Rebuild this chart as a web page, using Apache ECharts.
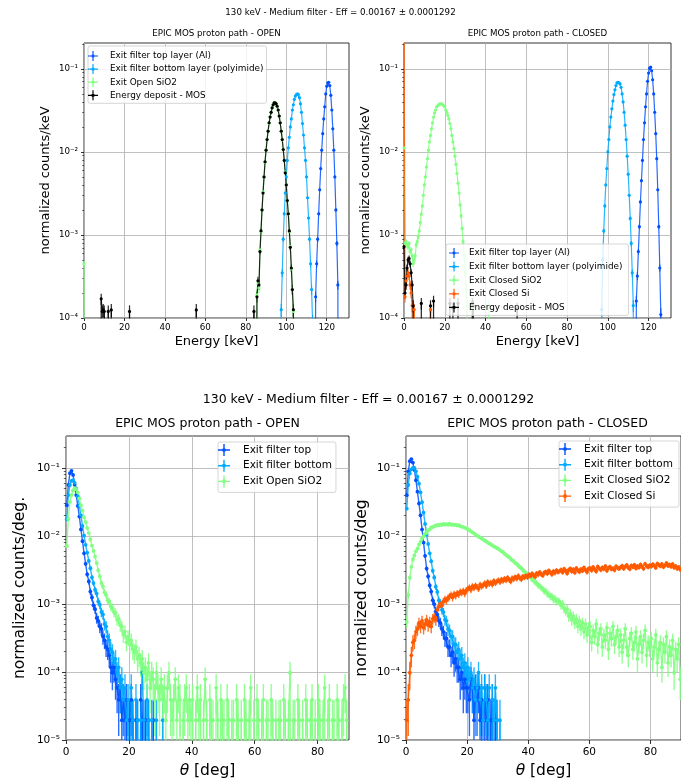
<!DOCTYPE html>
<html>
<head>
<meta charset="utf-8">
<title>EPIC MOS proton path</title>
<script src="https://cdn.jsdelivr.net/npm/echarts@6.0.0/dist/echarts.min.js"></script>
<style>
html,body{margin:0;padding:0;background:#ffffff;}
#chart{width:681px;height:782px;}
</style>
</head>
<body>
<div id="chart"></div>
<script>
// ================= DATA =================
// --- Energy spectra (normalized counts/keV), 0.5 keV bins, values listed from a start energy ---
const E_BIN = 0.5;
const E_MAX = 131;
const E_UNIT = 4e-6;            // normalized value of one count (energy plots)

// OPEN path
const openAlStart = 114.0;
const openAl = [0, 1.8e-4, 4.5e-4, 8.9e-4, 1.8e-3, 3.5e-3, 6.3e-3, 1.05e-2, 1.66e-2, 2.5e-2, 3.5e-2, 5.0e-2, 6.2e-2, 6.8e-2, 6.9e-2, 6.3e-2, 4.8e-2, 3.2e-2, 1.9e-2, 1.05e-2, 5.0e-3, 2.0e-3, 7.9e-4, 2.5e-4, 0];
const openPolyStart = 97.0;
const openPoly = [0, 1.26e-4, 3.5e-4, 8.9e-4, 1.8e-3, 3.2e-3, 5.0e-3, 7.9e-3, 1.12e-2, 1.5e-2, 2.0e-2, 2.5e-2, 3.2e-2, 3.7e-2, 4.3e-2, 4.7e-2, 4.9e-2, 5.0e-2, 4.9e-2, 4.5e-2, 3.8e-2, 3.0e-2, 2.2e-2, 1.6e-2, 1.12e-2, 7.9e-3, 5.0e-3, 2.8e-3, 1.6e-3, 8.9e-4, 4.5e-4, 2.2e-4, 9e-5, 0];
const openSiO2Start = 85.0;
const openSiO2 = [0, 1.9e-4, 2.6e-4, 2.3e-4, 6.6e-4, 1.1e-3, 2.0e-3, 3.3e-3, 5.0e-3, 7.5e-3, 1.06e-2, 1.4e-2, 1.8e-2, 2.2e-2, 2.65e-2, 3.0e-2, 3.4e-2, 3.7e-2, 3.9e-2, 3.85e-2, 3.8e-2, 3.5e-2, 3.2e-2, 2.7e-2, 2.25e-2, 1.78e-2, 1.4e-2, 1.07e-2, 7.9e-3, 5.7e-3, 4.0e-3, 2.6e-3, 1.8e-3, 1.1e-3, 7.3e-4, 3.9e-4, 2.2e-4, 1.2e-4, 0];
const openSiO2SpikeE = [0.0];
const openSiO2SpikeV = [4.5e-4];
const openMosStart = 85.0;
const openMos = [0, 1.8e-4, 2.8e-4, 2.5e-4, 6.3e-4, 1.12e-3, 2.0e-3, 3.2e-3, 5.0e-3, 7.6e-3, 1.05e-2, 1.41e-2, 1.78e-2, 2.24e-2, 2.63e-2, 3.0e-2, 3.4e-2, 3.7e-2, 3.9e-2, 3.9e-2, 3.8e-2, 3.55e-2, 3.2e-2, 2.7e-2, 2.24e-2, 1.78e-2, 1.41e-2, 1.07e-2, 7.9e-3, 5.6e-3, 4.0e-3, 2.6e-3, 1.8e-3, 1.12e-3, 7.1e-4, 4.0e-4, 2.2e-4, 1.26e-4, 0];
const openMosSpikeE = [8.5, 9.0, 9.5, 10.0, 12.0, 13.5, 22.5, 55.5, 84.0];
const openMosSpikeV = [1.7e-4, 1.2e-4, 1.25e-4, 1.2e-4, 1.2e-4, 1.25e-4, 1.2e-4, 1.25e-4, 1.2e-4];

// CLOSED path
const closedAlStart = 113.5;
const closedAl = [0, 1.6e-4, 3.2e-4, 6.3e-4, 1.26e-3, 2.5e-3, 4.5e-3, 7.9e-3, 1.41e-2, 2.24e-2, 3.5e-2, 5.0e-2, 7.1e-2, 8.9e-2, 1.02e-1, 1.05e-1, 9.5e-2, 7.4e-2, 5.0e-2, 3.0e-2, 1.66e-2, 8.3e-3, 3.5e-3, 1.26e-3, 4.0e-4, 1.1e-4, 0];
const closedPolyStart = 96.5;
const closedPoly = [0, 1.26e-4, 5.0e-4, 1.12e-3, 2.24e-3, 4.0e-3, 6.3e-3, 1.0e-2, 1.41e-2, 2.0e-2, 2.63e-2, 3.3e-2, 4.1e-2, 4.9e-2, 5.6e-2, 6.3e-2, 6.8e-2, 6.9e-2, 6.8e-2, 6.6e-2, 6.0e-2, 5.0e-2, 4.0e-2, 3.0e-2, 2.1e-2, 1.41e-2, 8.9e-3, 5.4e-3, 3.0e-3, 1.58e-3, 7.9e-4, 3.5e-4, 1.41e-4, 0];
const closedSiO2Start = 0.0;
const closedSiO2 = [1.12e-2, 7.9e-4, 8.3e-4, 7.6e-4, 7.1e-4, 7.9e-4, 6.3e-4, 6.6e-4, 5.6e-4, 4.5e-4, 5.0e-4, 5.6e-4, 7.6e-4, 8.3e-4, 9.5e-4, 1.12e-3, 1.41e-3, 1.78e-3, 2.24e-3, 3.0e-3, 4.0e-3, 5.0e-3, 6.6e-3, 8.3e-3, 1.05e-2, 1.32e-2, 1.58e-2, 1.9e-2, 2.24e-2, 2.63e-2, 2.95e-2, 3.2e-2, 3.5e-2, 3.6e-2, 3.7e-2, 3.8e-2, 3.8e-2, 3.8e-2, 3.7e-2, 3.6e-2, 3.5e-2, 3.2e-2, 3.0e-2, 2.75e-2, 2.5e-2, 2.2e-2, 1.9e-2, 1.58e-2, 1.32e-2, 1.1e-2, 8.9e-3, 7.1e-3, 5.5e-3, 4.2e-3, 3.2e-3, 2.3e-3, 1.7e-3, 1.2e-3, 8.3e-4, 5.6e-4, 3.5e-4, 2.2e-4, 1.4e-4, 0];
const closedSiO2SpikeE = [34.0, 41.5];
const closedSiO2SpikeV = [1.3e-4, 1.4e-4];
const closedSiStart = 0.0;
const closedSi = [1.5, 1.8e-4, 2.8e-4, 3.2e-4, 3.5e-4, 3.2e-4, 2.5e-4, 2.0e-4, 1.41e-4, 0, 1.26e-4, 0];
const closedSiSpikeE = [13.0];
const closedSiSpikeV = [1.26e-4];
const closedMosStart = 0.0;
const closedMos = [7.2e-4, 2.0e-4, 2.5e-4, 4.0e-4, 5.0e-4, 5.2e-4, 4.5e-4, 3.5e-4, 2.5e-4, 1.4e-4, 0];
const closedMosSpikeE = [8.5, 13.0, 14.5, 22.5, 24.0, 26.5, 33.5, 34.0, 55.5];
const closedMosSpikeV = [1.5e-4, 1.4e-4, 1.6e-4, 1.5e-4, 1.3e-4, 1.5e-4, 1.5e-4, 1.4e-4, 1.3e-4];

// --- Angular distributions: counts per 0.5 deg bin (bin centres 0.25, 0.75, ...) ---
const A_START = 0.25;
const A_BIN = 0.5;
const A_UNIT = 1.95e-5;          // normalized counts/deg of one count

const angOpenTop = [1450, 2900, 4300, 4650, 4050, 2900, 2050, 1420, 990, 640,
  430, 285, 200, 140, 110, 78, 64, 49, 43, 32,
  29, 24, 22, 17, 15, 12, 11, 9, 6, 5,
  6, 4, 3, 2, 3, 1, 2, 1, 2, 0,
  1, 2, 1, 0, 1, 1, 0, 2, 1, 0,
  1, 0, 1, 0, 0, 1, 0, 0, 0, 0];
const angOpenBottom = [900, 2050, 2870, 3320, 3380, 3100, 2560, 1960, 1430, 1030,
  720, 520, 380, 292, 220, 172, 126, 104, 83, 73,
  56, 50, 39, 36, 26, 24, 17, 15, 11, 10,
  7, 8, 5, 6, 3, 4, 2, 3, 1, 2,
  0, 3, 1, 0, 2, 1, 0, 1, 5, 1,
  0, 2, 1, 0, 1, 0, 0, 1, 0, 0,
  0, 1, 0, 0];
const angOpenSiO2 = [363, 910, 1630, 2050, 2400, 2580, 2500, 2230, 1830, 1440, 1210, 970, 820, 670, 565, 455, 370, 310, 255, 205,
  160, 131, 105, 93, 76, 70, 58, 56, 47, 45, 39, 38, 30, 31, 25, 24, 18, 20, 14, 17,
  13, 15, 11, 10, 12, 8, 9, 7, 8, 5, 6, 4, 7, 3, 5, 4, 2, 5, 3, 2,
  4, 2, 3, 1, 3, 5, 2, 1, 2, 4, 1, 3, 2, 0, 1, 2, 3, 1, 2, 1,
  2, 0, 1, 3, 1, 2, 0, 1, 4, 1, 0, 2, 1, 1, 0, 3, 1, 0, 2, 1,
  1, 0, 2, 1, 0, 1, 1, 0, 2, 1, 0, 1, 0, 2, 1, 0, 1, 3, 0, 1,
  0, 2, 1, 0, 1, 2, 0, 1, 1, 0, 2, 1, 0, 1, 0, 1, 1, 0, 2, 1,
  0, 1, 5, 0, 1, 1, 0, 2, 1, 0, 1, 0, 2, 1, 0, 1, 2, 0, 1, 0,
  2, 1, 0, 1, 3, 0, 1, 2, 0, 1, 1, 0, 2, 1, 0, 1, 2, 3, 1, 0];

const angClosedTop = [2040, 4580, 6450, 6900, 6150, 4800, 3380, 2300, 1540, 1030,
  640, 410, 262, 170, 131, 96, 78, 58, 51, 40,
  36, 29, 27, 22, 20, 16, 16, 12, 12, 9,
  10, 7, 8, 6, 6, 4, 5, 3, 4, 3,
  3, 2, 4, 3, 1, 3, 2, 3, 1, 2,
  0, 3, 1, 2, 0, 1, 2, 0, 1, 1, 0];
const angClosedBottom = [1290, 2880, 4260, 4900, 5130, 5120, 4580, 3810, 3010, 2250,
  1610, 1130, 770, 540, 392, 285, 218, 158, 126, 92,
  77, 58, 53, 42, 39, 30, 29, 22, 21, 17,
  17, 13, 13, 10, 11, 8, 9, 6, 7, 5,
  6, 4, 5, 3, 4, 2, 3, 5, 2, 3,
  1, 3, 2, 1, 3, 0, 2, 1, 3, 1,
  0, 1, 0];
const angClosedSiO2 = [28, 70, 125, 180, 232, 265, 305, 335, 384, 420, 470, 508, 556, 570, 622, 640, 684, 690, 716, 725,
  748, 735, 760, 742, 771, 755, 768, 750, 776, 748, 760, 745, 752, 731, 740, 712, 705, 690, 682, 660,
  645, 625, 600, 580, 560, 540, 515, 500, 488, 470, 455, 440, 425, 410, 398, 385, 372, 360, 352, 340,
  332, 318, 305, 296, 282, 270, 258, 250, 236, 225, 218, 206, 198, 188, 178, 172, 162, 154, 146, 138,
  131, 128, 117, 116, 106, 105, 96, 95, 88, 86, 79, 80, 72, 71, 66, 67, 60, 62, 56, 57,
  55, 49, 52, 44, 41, 43, 34, 37, 30, 34, 27, 31, 24, 29, 22, 27, 20, 26, 18, 23,
  24, 14, 21, 17, 26, 13, 19, 22, 12, 18, 15, 23, 11, 19, 16, 24, 13, 17, 21, 12,
  18, 10, 15, 22, 12, 9, 16, 19, 11, 14, 20, 8, 13, 17, 10, 15, 21, 9, 14, 12,
  16, 8, 12, 18, 7, 11, 14, 6, 13, 10, 17, 7, 12, 9, 15, 5, 11, 8, 13, 4];
const angClosedSi = [1, 2, 5, 9, 14, 15, 20, 22, 27, 24, 29, 23, 26, 30, 25, 28, 24, 31, 33, 30,
  42, 47, 52, 49, 56, 60, 58, 63, 66, 70, 64, 72, 68, 74, 71, 78, 75, 80, 73, 82,
  85, 90, 83, 94, 88, 96, 91, 86, 99, 93, 97, 104, 95, 108, 101, 106, 99, 112, 104, 110,
  115, 108, 118, 112, 121, 114, 125, 117, 110, 123, 119, 128, 121, 133, 124, 118, 130, 126, 135, 127,
  138, 131, 143, 136, 128, 145, 139, 150, 141, 135, 148, 152, 144, 158, 149, 140, 155, 147, 160, 151,
  156, 163, 150, 168, 158, 145, 162, 170, 155, 165, 149, 172, 160, 153, 167, 158, 175, 162, 151, 169,
  172, 160, 178, 166, 155, 181, 170, 163, 176, 168, 185, 159, 174, 180, 167, 171, 162, 183, 175, 169,
  178, 186, 170, 182, 191, 175, 168, 188, 179, 193, 172, 184, 177, 195, 181, 170, 200, 186, 178, 190,
  183, 196, 188, 175, 201, 192, 185, 198, 180, 190, 205, 187, 194, 182, 197, 176, 185, 170, 178, 165];

// --- Tick values ---
const energyTicks = [0, 20, 40, 60, 80, 100, 120];
const angleTicks = [0, 20, 40, 60, 80];
const countTicksE = [1e-4, 1e-3, 1e-2, 1e-1];
const countTicksA = [1e-5, 1e-4, 1e-3, 1e-2, 1e-1];

// ================= STYLE =================
const FONT = 'DejaVu Sans';
const C_TOP = '#0050ff', C_BOT = '#00aaff', C_SIO2 = '#80ff80', C_SI = '#ff5a00', C_MOS = '#000000';
const FLOOR = 1e-12;
const ICON = 'path://M0,5.3h12v1.4h-12z M5.3,0h1.4v12h-1.4z M4.4,4.4h3.2v3.2h-3.2z';

// ================= BUILDERS =================
function energyPoints(start, values, spikeE, spikeV) {
  const n = Math.round(E_MAX / E_BIN);
  const grid = new Array(n + 1).fill(0);
  const s = Math.round(start / E_BIN);
  values.forEach((v, i) => { grid[s + i] = v; });
  (spikeE || []).forEach((e, i) => { grid[Math.round(e / E_BIN)] = spikeV[i]; });
  return grid.map((v, i) => [i * E_BIN, v, Math.sqrt(v * E_UNIT)]);
}
function anglePoints(counts) {
  return counts.map((c, i) => [A_START + i * A_BIN, c * A_UNIT, Math.sqrt(c) * A_UNIT]);
}
function errRender(color, lw) {
  return function (params, api) {
    const cs = params.coordSys;
    const x = api.value(0);
    const a = api.coord([x, api.value(2)]);
    const b = api.coord([x, api.value(1)]);
    const y1 = Math.max(a[1], cs.y);
    const y2 = Math.min(b[1], cs.y + cs.height);
    if (a[0] < cs.x - 0.5 || a[0] > cs.x + cs.width + 0.5 || y1 >= y2) return null;
    return { type: 'line', shape: { x1: a[0], y1: y1, x2: a[0], y2: y2 },
      style: { stroke: color, lineWidth: lw, opacity: 0.85 }, silent: true };
  };
}
const series = [];
function addHist(name, color, pts, xi, yi, sym, lw) {
  const errData = [];
  pts.forEach(p => { if (p[1] > 0) errData.push([p[0], Math.max(p[1] - p[2], FLOOR), p[1] + p[2]]); });
  series.push({ type: 'custom', name: name, xAxisIndex: xi, yAxisIndex: yi, data: errData,
    renderItem: errRender(color, lw), itemStyle: { color: color }, silent: true, animation: false, clip: false, z: 2 });
  series.push({ type: 'line', name: name, xAxisIndex: xi, yAxisIndex: yi,
    data: pts.map(p => [p[0], p[1] > 0 ? p[1] : FLOOR]),
    symbol: 'circle', symbolSize: v => (v[1] > FLOOR * 10 ? sym : 0), showSymbol: true,
    lineStyle: { color: color, width: lw, opacity: 0.85 }, itemStyle: { color: color },
    clip: true, silent: true, animation: false, z: 2, emphasis: { disabled: true } });
}

function supExp(v) {
  const e = Math.round(Math.log10(v));
  const map = { '-': '\u207B', '0': '\u2070', '1': '\u00B9', '2': '\u00B2', '3': '\u00B3', '4': '\u2074', '5': '\u2075', '6': '\u2076', '7': '\u2077', '8': '\u2078', '9': '\u2079' };
  return '10' + String(e).split('').map(c => map[c]).join('');
}
function minorVals(lo, hi) {
  const out = [];
  for (let e = lo; e <= 0; e++) for (let m = 2; m <= 9; m++) { const v = m * Math.pow(10, e); if (v < hi) out.push(v); }
  return out;
}
const SPLIT = { show: true, lineStyle: { color: '#b0b0b0', width: 0.8 } };
function xAx(gi, max, ticks, name, fs, nameFs, nameGap, margin, tickLen) {
  return { type: 'value', gridIndex: gi, min: 0, max: max, interval: 20,
    name: name, nameLocation: 'middle', nameGap: nameGap,
    nameTextStyle: { fontFamily: FONT, fontSize: nameFs, color: '#000',
      rich: { t: { fontFamily: FONT, fontSize: nameFs, fontStyle: 'italic', color: '#000' } } },
    axisLine: { show: false },
    axisTick: { show: true, length: tickLen, lineStyle: { color: '#000', width: 0.8 }, customValues: ticks },
    axisLabel: { customValues: ticks, fontFamily: FONT, fontSize: fs, color: '#000', margin: margin },
    splitLine: SPLIT };
}
function yAx(gi, min, max, ticks, name, fs, nameFs, nameGap, tickLen) {
  return { type: 'log', logBase: 10, gridIndex: gi, min: min, max: max,
    name: name, nameLocation: 'middle', nameGap: nameGap,
    nameTextStyle: { fontFamily: FONT, fontSize: nameFs, color: '#000' },
    axisLine: { show: false },
    axisTick: { show: true, length: tickLen, lineStyle: { color: '#000', width: 0.8 }, customValues: ticks },
    axisLabel: { customValues: ticks, formatter: supExp, fontFamily: FONT, fontSize: fs, color: '#000', margin: 6 },
    splitLine: SPLIT };
}
function yMinor(gi, min, max, vals, len) {
  return { type: 'log', logBase: 10, gridIndex: gi, min: min, max: max, position: 'left',
    axisLine: { show: false }, axisLabel: { show: false }, splitLine: { show: false },
    axisTick: { show: true, length: len, lineStyle: { color: '#000', width: 0.6 }, customValues: vals } };
}

// ================= SERIES =================
// Top-left: OPEN energy
addHist('Exit filter top layer (Al)', C_TOP, energyPoints(openAlStart, openAl), 0, 0, 3.2, 1.2);
addHist('Exit filter bottom layer (polyimide)', C_BOT, energyPoints(openPolyStart, openPoly), 0, 0, 3.2, 1.2);
addHist('Exit Open SiO2', C_SIO2, energyPoints(openSiO2Start, openSiO2, openSiO2SpikeE, openSiO2SpikeV), 0, 0, 3.2, 1.2);
addHist('Energy deposit - MOS', C_MOS, energyPoints(openMosStart, openMos, openMosSpikeE, openMosSpikeV), 0, 0, 3.2, 1.2);
// Top-right: CLOSED energy
addHist('Exit filter top layer (Al)', C_TOP, energyPoints(closedAlStart, closedAl), 1, 1, 3.2, 1.2);
addHist('Exit filter bottom layer (polyimide)', C_BOT, energyPoints(closedPolyStart, closedPoly), 1, 1, 3.2, 1.2);
addHist('Exit Closed SiO2', C_SIO2, energyPoints(closedSiO2Start, closedSiO2, closedSiO2SpikeE, closedSiO2SpikeV), 1, 1, 3.2, 1.2);
addHist('Exit Closed Si', C_SI, energyPoints(closedSiStart, closedSi, closedSiSpikeE, closedSiSpikeV), 1, 1, 3.2, 1.2);
addHist('Energy deposit - MOS', C_MOS, energyPoints(closedMosStart, closedMos, closedMosSpikeE, closedMosSpikeV), 1, 1, 3.2, 1.2);
// Bottom-left: OPEN angle
addHist('Exit filter top', C_TOP, anglePoints(angOpenTop), 2, 2, 3.8, 1.4);
addHist('Exit filter bottom', C_BOT, anglePoints(angOpenBottom), 2, 2, 3.8, 1.4);
addHist('Exit Open SiO2', C_SIO2, anglePoints(angOpenSiO2), 2, 2, 3.8, 1.4);
// Bottom-right: CLOSED angle
addHist('Exit filter top', C_TOP, anglePoints(angClosedTop), 3, 3, 3.8, 1.4);
addHist('Exit filter bottom', C_BOT, anglePoints(angClosedBottom), 3, 3, 3.8, 1.4);
addHist('Exit Closed SiO2', C_SIO2, anglePoints(angClosedSiO2), 3, 3, 3.8, 1.4);
addHist('Exit Closed Si', C_SI, anglePoints(angClosedSi), 3, 3, 3.8, 1.4);

// ================= LEGENDS =================
function legItems(list) { return list.map(d => ({ name: d[0], icon: ICON, itemStyle: { color: d[1], borderWidth: 0 } })); }
function legend(left, top, padding, itemWidth, itemHeight, gap, fs, lh, items) {
  return { orient: 'vertical', left: left, top: top, padding: padding, itemWidth: itemWidth, itemHeight: itemHeight,
    itemGap: gap, selectedMode: false, symbolKeepAspect: true,
    textStyle: { fontFamily: FONT, fontSize: fs, lineHeight: lh, color: '#000' },
    backgroundColor: 'rgba(255,255,255,0.8)', borderColor: '#cccccc', borderWidth: 0.8, borderRadius: 2,
    data: legItems(items) };
}

// ================= OPTION =================
const TOP_MAX = 0.205, BOT_MAX = 0.295;
const option = {
  backgroundColor: '#ffffff',
  animation: false,
  grid: [
    { left: 84, top: 43, width: 265, height: 275, show: true, borderColor: '#000', borderWidth: 0.8, backgroundColor: 'transparent' },
    { left: 404, top: 43, width: 267, height: 275, show: true, borderColor: '#000', borderWidth: 0.8, backgroundColor: 'transparent' },
    { left: 66, top: 436, width: 283, height: 304, show: true, borderColor: '#000', borderWidth: 0.8, backgroundColor: 'transparent' },
    { left: 406, top: 436, width: 283, height: 304, show: true, borderColor: '#000', borderWidth: 0.8, backgroundColor: 'transparent' }
  ],
  xAxis: [
    xAx(0, E_MAX, energyTicks, 'Energy [keV]', 8.7, 13, 17, 5, 3),
    xAx(1, E_MAX, energyTicks, 'Energy [keV]', 8.7, 13, 17, 5, 3),
    xAx(2, 90, angleTicks, '{t|\u03B8} [deg]', 10.5, 15.5, 23, 7, 4),
    xAx(3, 90, angleTicks, '{t|\u03B8} [deg]', 10.5, 15.5, 23, 7, 4)
  ],
  yAxis: [
    yAx(0, 1e-4, TOP_MAX, countTicksE, 'normalized counts/keV', 8.7, 13, 32, 3),
    yAx(1, 1e-4, TOP_MAX, countTicksE, 'normalized counts/keV', 8.7, 13, 32, 3),
    yAx(2, 1e-5, BOT_MAX, countTicksA, 'normalized counts/deg.', 10.5, 15.5, 38, 4),
    yAx(3, 1e-5, BOT_MAX, countTicksA, 'normalized counts/deg', 10.5, 15.5, 36.5, 4),
    yMinor(0, 1e-4, TOP_MAX, minorVals(-4, TOP_MAX), 1.8),
    yMinor(1, 1e-4, TOP_MAX, minorVals(-4, TOP_MAX), 1.8),
    yMinor(2, 1e-5, BOT_MAX, minorVals(-5, BOT_MAX), 2.2),
    yMinor(3, 1e-5, BOT_MAX, minorVals(-5, BOT_MAX), 2.2)
  ],
  legend: [
    legend(88, 46, [5, 3, 3, 0], 24, 10, 3.1, 8.9, 10, [
      ['Exit filter top layer (Al)', C_TOP], ['Exit filter bottom layer (polyimide)', C_BOT],
      ['Exit Open SiO2', C_SIO2], ['Energy deposit - MOS', C_MOS]]),
    legend(446, 244, [4, 6, 3, 3], 20, 10, 3.6, 8.9, 10, [
      ['Exit filter top layer (Al)', C_TOP], ['Exit filter bottom layer (polyimide)', C_BOT],
      ['Exit Closed SiO2', C_SIO2], ['Exit Closed Si', C_SI], ['Energy deposit - MOS', C_MOS]]),
    legend(218, 442, [2, 4, 5, 0], 28, 12, 3.7, 10.5, 12, [
      ['Exit filter top', C_TOP], ['Exit filter bottom', C_BOT], ['Exit Open SiO2', C_SIO2]]),
    legend(559, 441, [2, 6, 5, 0], 28, 12, 3.7, 10.5, 12, [
      ['Exit filter top', C_TOP], ['Exit filter bottom', C_BOT], ['Exit Closed SiO2', C_SIO2], ['Exit Closed Si', C_SI]])
  ],
  graphic: [
    { type: 'text', x: 340.5, y: 13, silent: true, style: { text: '130 keV - Medium filter - Eff = 0.00167 \u00B1 0.0001292', fontFamily: FONT, fontSize: 8.7, fill: '#000', align: 'center', verticalAlign: 'middle' } },
    { type: 'text', x: 216.5, y: 34, silent: true, style: { text: 'EPIC MOS proton path - OPEN', fontFamily: FONT, fontSize: 8.7, fill: '#000', align: 'center', verticalAlign: 'middle' } },
    { type: 'text', x: 537.5, y: 34, silent: true, style: { text: 'EPIC MOS proton path - CLOSED', fontFamily: FONT, fontSize: 8.7, fill: '#000', align: 'center', verticalAlign: 'middle' } },
    { type: 'text', x: 368.5, y: 400, silent: true, style: { text: '130 keV - Medium filter - Eff = 0.00167 \u00B1 0.0001292', fontFamily: FONT, fontSize: 12.5, fill: '#000', align: 'center', verticalAlign: 'middle' } },
    { type: 'text', x: 207.5, y: 424, silent: true, style: { text: 'EPIC MOS proton path - OPEN', fontFamily: FONT, fontSize: 12.5, fill: '#000', align: 'center', verticalAlign: 'middle' } },
    { type: 'text', x: 547.5, y: 424, silent: true, style: { text: 'EPIC MOS proton path - CLOSED', fontFamily: FONT, fontSize: 12.5, fill: '#000', align: 'center', verticalAlign: 'middle' } }
  ],
  series: series
};

const chart = echarts.init(document.getElementById('chart'), null, { renderer: 'canvas' });
chart.setOption(option);
</script>
</body>
</html>
